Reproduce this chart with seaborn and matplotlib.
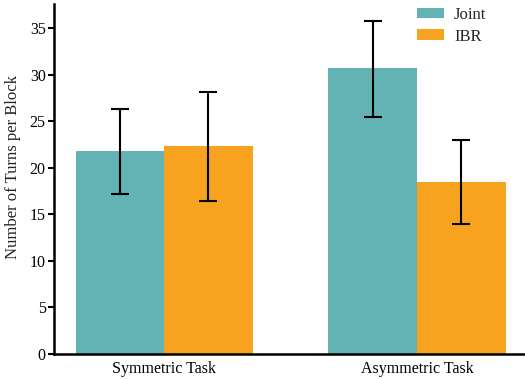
import matplotlib
matplotlib.use("Agg")
import matplotlib.pyplot as plt
import seaborn as sns
import pandas as pd
import numpy as np

tasks = ["Symmetric Task", "Asymmetric Task"]
conditions = ["Joint", "IBR"]
joint_means = [21.8, 30.7]
ibr_means = [22.3, 18.5]
joint_low = [17.2, 25.45]
joint_high = [26.3, 35.75]
ibr_low = [16.4, 14.0]
ibr_high = [28.2, 23.0]
yticks = [0, 5, 10, 15, 20, 25, 30, 35]

sns.set_theme(style="ticks")
plt.rcParams['font.family'] = ['Liberation Serif', 'DejaVu Serif']

df = pd.DataFrame({
    "task": tasks * 2,
    "cond": ["Joint"] * 2 + ["IBR"] * 2,
    "mean": joint_means + ibr_means,
    "low": joint_low + ibr_low,
    "high": joint_high + ibr_high,
})

fig = plt.figure(figsize=(5.25, 3.79), dpi=100)
ax = fig.add_axes([54 / 525, 1 - 354 / 379, 1 - 54 / 525, (354 - 4) / 379])
palette = {"Joint": "#63B2B4", "IBR": "#F8A31F"}
sns.barplot(data=df, x="task", y="mean", hue="cond", order=tasks,
            hue_order=conditions, palette=palette, width=0.7,
            saturation=1, errorbar=None, ax=ax, edgecolor="none")

# error bars at bar centres
for cont, cond in zip(ax.containers, conditions):
    sub = df[df["cond"] == cond].set_index("task").loc[tasks]
    xs = [p.get_x() + p.get_width() / 2 for p in cont.patches]
    m = sub["mean"].values
    lo = m - sub["low"].values
    hi = sub["high"].values - m
    ax.errorbar(xs, m, yerr=[lo, hi], fmt="none", ecolor="black",
                elinewidth=1.5, capsize=6.5, capthick=1.5, zorder=5)

ax.set_xlim(-0.435, 1.427)
ax.set_ylim(0, 37.6)
ax.set_yticks(yticks)
ax.set_xlabel("")
ax.set_ylabel("Number of Turns per Block", fontsize=12)
ax.yaxis.set_label_coords(-0.071, 0.535)
ax.tick_params(axis="both", labelsize=11.5, width=1.5, length=4, colors="black")
ax.tick_params(axis="y", pad=2)
ax.tick_params(axis="x", length=0, pad=5)
for s in ["top", "right"]:
    ax.spines[s].set_visible(False)
for s in ["left", "bottom"]:
    ax.spines[s].set_linewidth(1.8)
    ax.spines[s].set_color("black")

leg = ax.legend(loc="upper right", bbox_to_anchor=(0.95, 1.035), frameon=False,
                fontsize=12, handlelength=1.6, handleheight=0.6,
                labelspacing=0.35, handletextpad=0.6, title=None)

fig.savefig("out.png", dpi=100)
